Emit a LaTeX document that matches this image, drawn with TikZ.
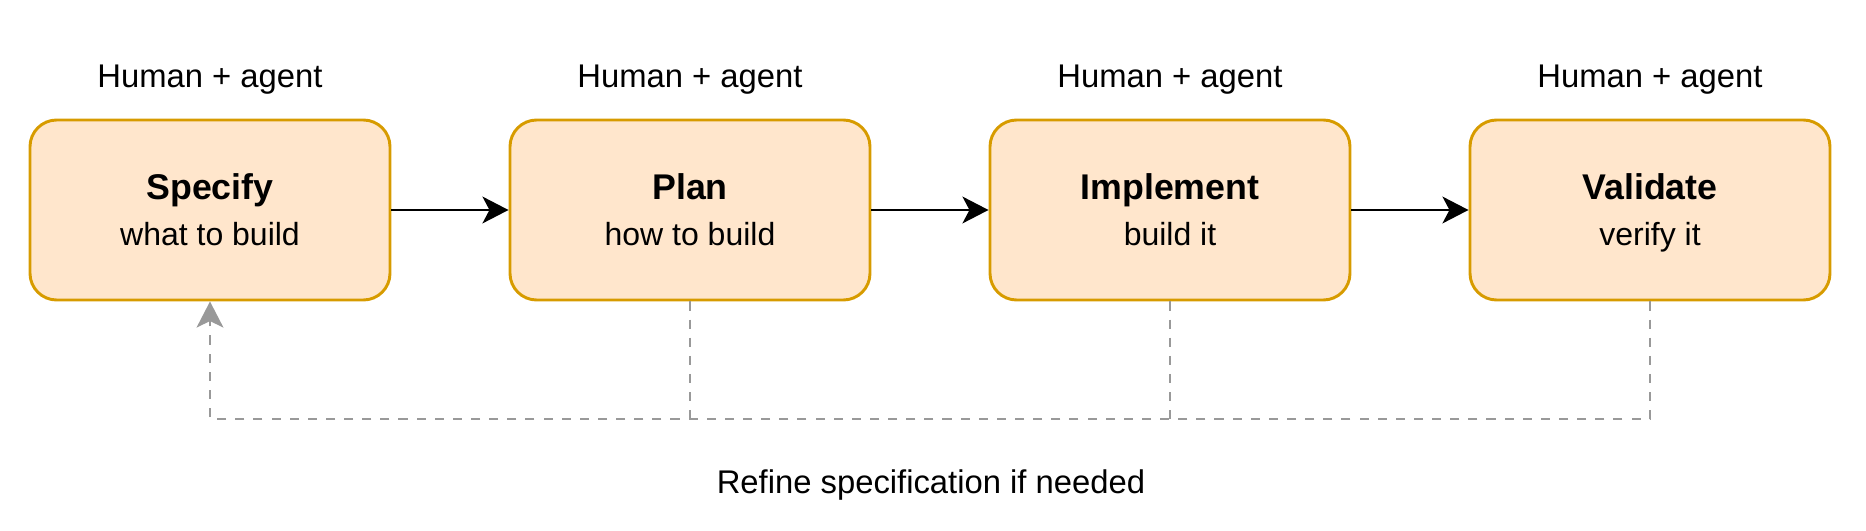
\documentclass[tikz,border=0pt]{standalone}
\usepackage{fontspec}
\setmainfont{Liberation Sans}
\usetikzlibrary{arrows.meta}
\definecolor{boxfill}{HTML}{FFE6CC}
\definecolor{boxdraw}{HTML}{D79B00}
\definecolor{dgrey}{HTML}{999999}
\newcommand{\toprule}{\strut\rule{0pt}{14.8pt}}
\begin{document}
\begin{tikzpicture}[x=0.375pt,y=-0.375pt,
  stage/.style={draw=boxdraw, fill=boxfill, line width=1.1pt, rounded corners=10pt,
    minimum width=135pt, minimum height=67.5pt, align=center, inner sep=0pt,
    font=\fontsize{12}{17.25}\selectfont},
  who/.style={font=\fontsize{12.3}{14}\selectfont, inner sep=0pt},
  flow/.style={line width=1.1pt, -{Stealth[length=9.75pt,width=10pt,inset=2.6pt]}},
  back/.style={line width=1.1pt, draw=dgrey, dash pattern=on 3.4pt off 3.4pt},
  backtip/.style={-{Stealth[length=9.75pt,width=10pt,inset=2.4pt]}},
]
\useasboundingbox (0,0) rectangle (1866,531);

\node[stage] (spec) at (210,210) {{\bfseries\fontsize{13.4}{17.25}\selectfont Specify\toprule}\\what to build\strut};
\node[stage] (plan) at (690,210) {{\bfseries\fontsize{13.4}{17.25}\selectfont Plan\toprule}\\how to build\strut};
\node[stage] (impl) at (1170,210) {{\bfseries\fontsize{13.4}{17.25}\selectfont Implement\toprule}\\build it\strut};
\node[stage] (vali) at (1650,210) {{\bfseries\fontsize{13.4}{17.25}\selectfont Validate\toprule}\\verify it\strut};

\node[who] (w1) at (210,80) {Human + agent};
\node[who] (w2) at (690,80) {Human + agent};
\node[who] (w3) at (1170,80) {Human + agent};
\node[who] (w4) at (1650,80) {Human + agent};

\draw[flow] (spec) -- (plan);
\draw[flow] (plan) -- (impl);
\draw[flow] (impl) -- (vali);

\coordinate (j1) at (210,419);
\draw[back, backtip] (vali.south) |- (j1) -- (spec.south);
\draw[back] (plan.south) -- (plan.south |- j1);
\draw[back] (impl.south) -- (impl.south |- j1);

\node[font=\fontsize{12.3}{14}\selectfont, inner sep=0pt] (lbl) at (931,485) {Refine specification if needed};
\end{tikzpicture}
\end{document}
